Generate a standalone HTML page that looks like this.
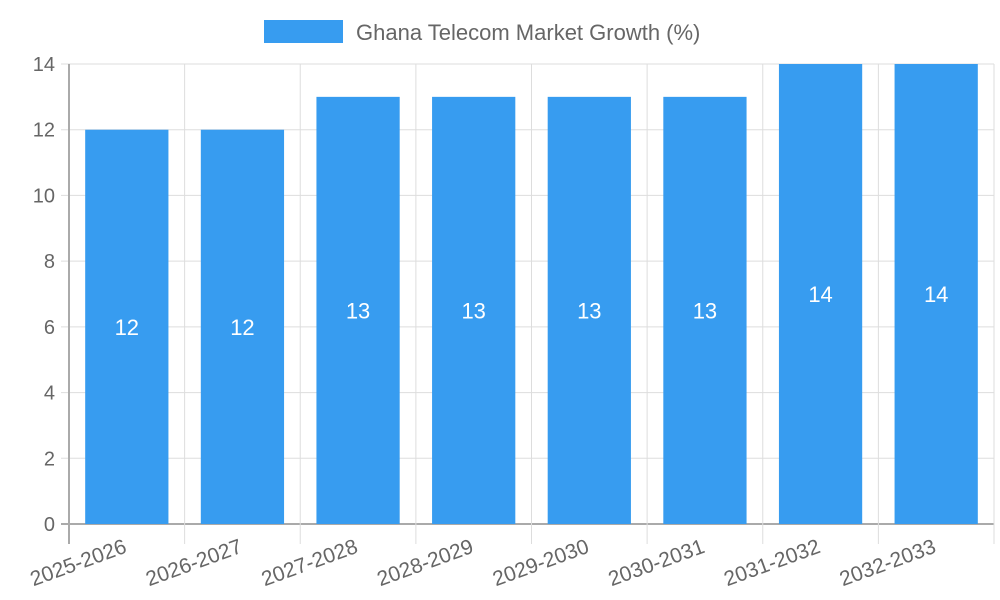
<!DOCTYPE html>
<html><head><meta charset="utf-8"><style>body{margin:0;background:#fff}svg{display:block;font-family:"Liberation Sans",sans-serif}</style></head>
<body>
<svg id="c" width="1000" height="600">
<rect x="264" y="20" width="79" height="23" fill="#379cf0"/>
<text x="356" y="40" font-size="22" fill="#666">Ghana Telecom Market Growth (%)</text>
<g id="grid"></g><g id="bars"></g><g id="labels"></g>
</svg>
<script>
const categories=["2025-2026","2026-2027","2027-2028","2028-2029","2029-2030","2030-2031","2031-2032","2032-2033"];
const values=[12,12,13,13,13,13,14,14];
const yTicks=[0,2,4,6,8,10,12,14];
const L=69,R=994,T=64,B=524,yMax=14;
const NS="http://www.w3.org/2000/svg";
const y=v=>B-(v/yMax)*(B-T);
const bw=(R-L)/categories.length;
const xc=i=>L+bw*(i+0.5);
function mk(p,tag,a){const e=document.createElementNS(NS,tag);for(const k in a)e.setAttribute(k,a[k]);document.getElementById(p).appendChild(e);return e;}
yTicks.forEach(t=>{
 const l=mk("grid","line",{x1:L-8,x2:R,y1:y(t),y2:y(t),stroke:t===0?"#aaa":"#ddd","stroke-width":t===0?2:1});
 
 
 const tx=mk("grid","text",{x:L-14,y:y(t)+7,"text-anchor":"end","font-size":20,fill:"#666"});
 tx.textContent=t;
 
 
});
for(let i=0;i<=categories.length;i++){
 const x=L+bw*i;
 const l=mk("grid","line",{x1:x,x2:x,y1:T,y2:B+20,stroke:i===0?"#aaa":"#ddd","stroke-width":i===0?2:1});
 
 
}
values.forEach((v,i)=>{
 const w=bw*0.72;
 const r=mk("bars","rect",{x:xc(i)-w/2,y:y(v),width:w,height:B-y(v),fill:"#379cf0"});
 
 
 const t=mk("labels","text",{x:xc(i),y:(y(v)+B)/2+8,"text-anchor":"middle","font-size":22,fill:"#fff"});
 t.textContent=v;
 
 
 const c=mk("labels","text",{x:0,y:0,"text-anchor":"end","font-size":21,fill:"#666",transform:`translate(${xc(i)+1},${B+28}) rotate(-20)`});
 c.textContent=categories[i];
 
 
});
</script>
</body></html>
